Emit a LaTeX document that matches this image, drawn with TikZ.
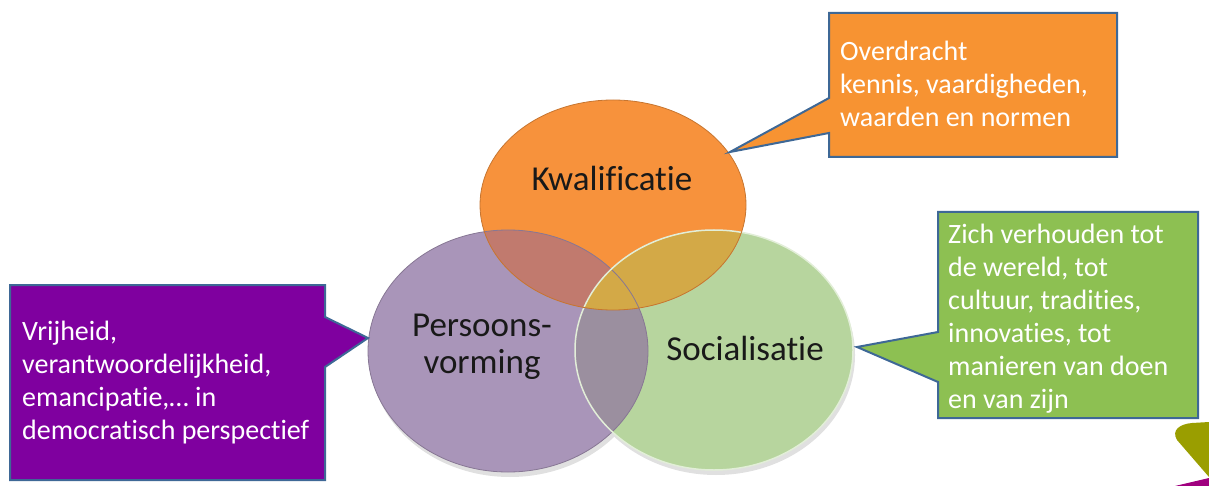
\documentclass[tikz,border=0pt]{standalone}
\usepackage{fontspec}
\setmainfont{Carlito}[Ligatures=NoCommon]
\usetikzlibrary{calc}
\definecolor{boxline}{HTML}{3E6896}
\definecolor{orangebox}{HTML}{F79332}
\definecolor{greenbox}{HTML}{8DC052}
\definecolor{purplebox}{HTML}{7F009F}
\definecolor{purpleell}{HTML}{A995B9}
\definecolor{greenell}{HTML}{B7D59E}
\definecolor{orangeell}{HTML}{F7923C}
\definecolor{po}{HTML}{C17A6E}
\definecolor{go}{HTML}{D3A947}
\definecolor{pg}{HTML}{9B8F9F}
\definecolor{pgo}{HTML}{A5897C}
\definecolor{olive}{HTML}{9A9E00}
\definecolor{magenta}{HTML}{A0007F}
\tikzset{
  callout/.style={draw=boxline, line width=2pt, line join=miter},
  boxtext/.style={anchor=north west, align=left, inner sep=0pt, text=white,
    font=\fontsize{28}{33}\selectfont},
  elltext/.style={align=center, inner sep=0pt, text=black!90,
    font=\fontsize{35}{37}\selectfont},
}
\begin{document}
\begin{tikzpicture}[x=1pt,y=-1pt]
\useasboundingbox (0,0) rectangle (1209,486);
% ellipses
\def\Pell{(508,351) ellipse [x radius=140, y radius=121]}
\def\Gell{(714,350) ellipse [x radius=139, y radius=120]}
\def\Oell{(613,205) ellipse [x radius=133, y radius=105]}
\fill[black!12] (510,356) ellipse [x radius=140, y radius=121];
\fill[black!12] (716,355) ellipse [x radius=139, y radius=120];
\fill[purpleell] \Pell;
\fill[greenell] \Gell;
\fill[orangeell] \Oell;
\begin{scope}
  \clip \Pell;
  \fill[po] \Oell;
  \fill[pg] \Gell;
  \clip \Gell;
  \fill[pgo] \Oell;
\end{scope}
\begin{scope}
  \clip \Gell;
  \fill[go] \Oell;
\end{scope}
\draw[purpleell!80!black, line width=0.8pt] \Pell;
\draw[white!60!greenell, line width=1.5pt] \Gell;
\draw[orangeell!80!black, line width=0.8pt] \Oell;
% ellipse labels
\node[elltext] (kwal) at (612,178) {Kwalificatie};
\node[elltext] (pers) at (482,347) {Persoons-\\vorming};
\node[elltext] (soc) at (745,348) {Socialisatie};
% callouts
\draw[callout, fill=orangebox] (829,13) -- (1117,13) -- (1117,157) -- (829,157) -- (829,133) -- (730,152) -- (829,98) -- cycle;
\draw[callout, fill=greenbox] (938,212) -- (1198,212) -- (1198,418) -- (938,418) -- (938,382) -- (857,347) -- (938,332) -- cycle;
\draw[callout, fill=purplebox] (10,285) -- (325,285) -- (325,317) -- (368,338) -- (325,367) -- (325,480) -- (10,480) -- cycle;
\node[boxtext] (otext) at (840,41) {Overdracht\\kennis, vaardigheden,\\waarden en normen};
\node[boxtext] (gtext) at (948,224) {Zich verhouden tot\\de wereld, tot\\cultuur, tradities,\\innovaties, tot\\manieren van doen\\en van zijn};
\node[boxtext] (ptext) at (22,321) {Vrijheid,\\verantwoordelijkheid,\\emancipatie,… in\\democratisch perspectief};
% corner decoration
\fill[olive] (1177,440) .. controls (1171,430) and (1180,424) .. (1192,423) -- (1209,422) -- (1209,477) -- cycle;
\fill[magenta] (1175,486) -- (1209,478) -- (1209,486) -- cycle;
\end{tikzpicture}
\end{document}
